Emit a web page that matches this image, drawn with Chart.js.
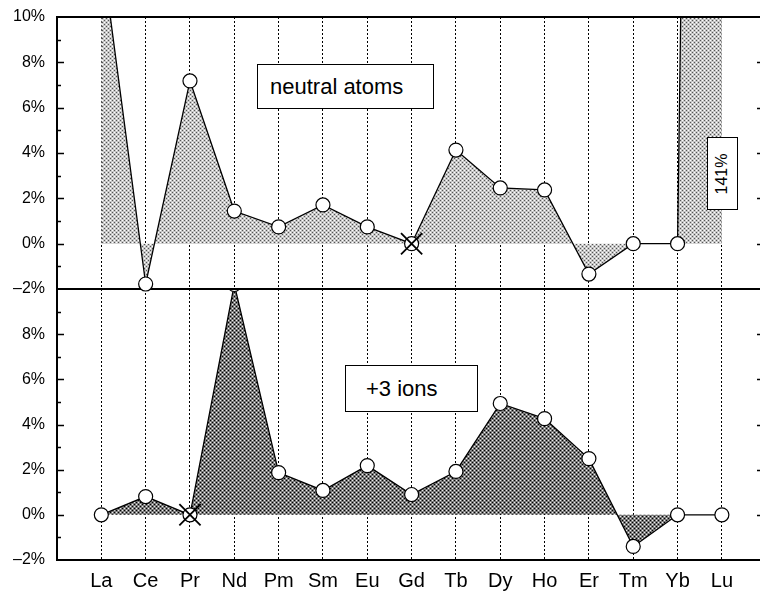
<!DOCTYPE html>
<html>
<head>
<meta charset="utf-8">
<script src="https://cdn.jsdelivr.net/npm/chart.js@4.4.0/dist/chart.umd.min.js"></script>
<style>
  html, body { margin: 0; padding: 0; background: #fff; }
  #wrap { position: relative; width: 760px; height: 595px; overflow: hidden;
          font-family: 'Liberation Sans', Arial, Helvetica, sans-serif; }
  canvas { position: absolute; left: 0; }
  #ionsChart { top: 270px; }
  #neutralChart { top: 0; }
  .label-box { position: absolute; box-sizing: border-box; border: 1px solid #000; background: #fff;
               display: flex; align-items: center; font-size: 22px; color: #000; }
  #offscale span { display: inline-block; transform: rotate(-90deg); font-size: 16px; white-space: nowrap;
                   font-family: 'Liberation Sans', Arial, sans-serif; }
</style>
</head>
<body>
<div id="wrap">
  <canvas id="ionsChart" width="760" height="325"></canvas>
  <canvas id="neutralChart" width="760" height="300"></canvas>
  <div class="label-box" style="left:257px;top:64px;width:177px;height:45px;padding-left:12px;">neutral atoms</div>
  <div class="label-box" style="left:345px;top:365px;width:133px;height:47px;padding-left:20px;">+3 ions</div>
  <div class="label-box" id="offscale" style="left:707px;top:137px;width:31px;height:73px;justify-content:center;"><span></span></div>
</div>
<script>
// lanthanide series
const categories = ['La', 'Ce', 'Pr', 'Nd', 'Pm', 'Sm', 'Eu', 'Gd', 'Tb', 'Dy', 'Ho', 'Er', 'Tm', 'Yb', 'Lu'];
// deviations in percent
const neutralValues = [13.0, -1.78, 7.18, 1.44, 0.74, 1.71, 0.74, 0.0, 4.13, 2.46, 2.37, -1.34, 0.0, 0.0, 141];
const ionValues = [0.0, 0.81, 0.0, 10.2, 1.87, 1.08, 2.18, 0.9, 1.92, 4.93, 4.26, 2.49, -1.4, 0.0, 0.0];
// element used as reference in each series (drawn with a cross)
const neutralReference = 'Gd';
const ionReference = 'Pr';
const yTickValues = [-2, 0, 2, 4, 6, 8, 10];

// stippled fills
function dotPattern(bg, dark, light) {
    const tile = document.createElement('canvas');
    tile.width = 4;
    tile.height = 4;
    const t = tile.getContext('2d');
    t.fillStyle = bg;
    t.fillRect(0, 0, 4, 4);
    t.fillStyle = dark;
    t.fillRect(0, 0, 1, 1);
    t.fillRect(2, 2, 1, 1);
    t.fillStyle = light;
    t.fillRect(2, 0, 1, 1);
    t.fillRect(0, 2, 1, 1);
    return t.createPattern(tile, 'repeat');
}

// inner tick marks on both sides, plus the frame line on top
const axisTicks = {
    id: 'axisTicks',
    afterDraw(chart, args, opts) {
        const { ctx, chartArea: a, scales: { y } } = chart;
        ctx.save();
        ctx.strokeStyle = '#000';
        ctx.lineWidth = 1.5;
        ctx.beginPath();
        for (let v = y.min + 1; v < y.max; v++) {
            const py = Math.round(y.getPixelForValue(v)) + 0.5;
            const major = v % 2 === 0;
            ctx.moveTo(a.left, py);
            ctx.lineTo(a.left + (major ? 7 : 4), py);
            if (major) {
                ctx.moveTo(a.right - 3, py);
                ctx.lineTo(a.right, py);
            }
        }
        ctx.stroke();
        if (opts.topLine) {
            ctx.lineWidth = 2;
            ctx.beginPath();
            ctx.moveTo(a.left, a.top);
            ctx.lineTo(a.right, a.top);
            ctx.stroke();
        }
        ctx.restore();
    }
};

function makePanel(canvas, values, reference, fillPattern, showCategories, padding) {
    const ri = categories.indexOf(reference);
    return new Chart(canvas, {
        type: 'line',
        data: {
            datasets: [{
                data: values.map((v, i) => ({ x: i, y: v })),
                borderColor: '#000',
                borderWidth: 1.3,
                backgroundColor: fillPattern,
                fill: 'origin',
                tension: 0,
                pointRadius: 7,
                pointBackgroundColor: '#fff',
                pointBorderColor: '#000',
                pointBorderWidth: 1.2,
                clip: { left: 10, top: 0, right: 0, bottom: 10 },
                order: 1
            }, {
                data: [{ x: ri, y: values[ri] }],
                showLine: false,
                fill: false,
                pointStyle: 'crossRot',
                pointRadius: 15,
                pointBorderColor: '#000',
                pointBorderWidth: 1.8,
                order: 0
            }]
        },
        options: {
            responsive: false,
            animation: false,
            events: [],
            layout: { padding: padding, autoPadding: false },
            plugins: {
                legend: { display: false },
                tooltip: { enabled: false },
                axisTicks: { topLine: !showCategories }
            },
            scales: {
                x: {
                    type: 'linear',
                    min: -1,
                    max: 14.86,
                    afterBuildTicks: s => { s.ticks = categories.map((c, i) => ({ value: i })); },
                    afterFit: s => { s.height = showCategories ? 35 : 0; },
                    ticks: {
                        display: showCategories,
                        padding: 9,
                        color: '#000',
                        font: { family: "'Liberation Sans', Arial, sans-serif", size: 20 },
                        callback: v => categories[v] ?? ''
                    },
                    grid: { color: '#000', lineWidth: 1, drawTicks: false },
                    border: { display: true, color: '#000', width: 2, dash: [2, 2] }
                },
                y: {
                    min: -2,
                    max: 10,
                    afterBuildTicks: s => { s.ticks = yTickValues.map(v => ({ value: v })); },
                    afterFit: s => {
                        s.width = 57;
                        // labels may overhang the plot edges
                        s.paddingTop = 0;
                        s.paddingBottom = 0;
                    },
                    ticks: {
                        padding: 12,
                        color: '#000',
                        font: { family: "'Liberation Sans', Arial, sans-serif", size: 16 },
                        callback: v => (showCategories && v === 10) ? '' : (v < 0 ? '\u2013' + (-v) : v) + '%'
                    },
                    grid: { drawOnChartArea: false, drawTicks: false },
                    border: { display: true, color: '#000', width: 2 }
                }
            }
        },
        plugins: [axisTicks]
    });
}

makePanel(document.getElementById('ionsChart'), ionValues, ionReference,
    dotPattern('#7a7a7a', '#000', '#eee'), true, { top: 19, bottom: 0, left: 0, right: 0 });
makePanel(document.getElementById('neutralChart'), neutralValues, neutralReference,
    dotPattern('#c6c6c6', '#555', '#fff'), false, { top: 17, bottom: 11, left: 0, right: 0 });

// value of the off-scale Lu point
document.querySelector('#offscale span').textContent = neutralValues[categories.indexOf('Lu')] + '%';
</script>
</body>
</html>
